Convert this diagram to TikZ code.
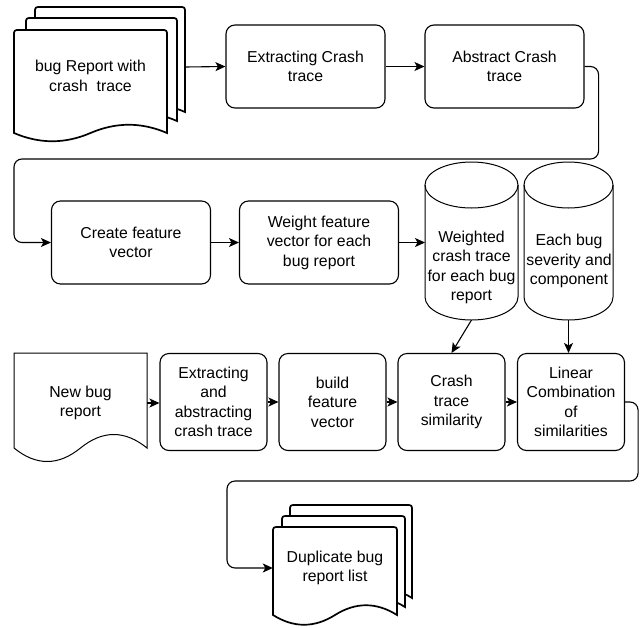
\documentclass[tikz,border=0pt]{standalone}
\usepackage{fontspec}
\setmainfont{Liberation Sans}
\usetikzlibrary{arrows.meta,calc}
\newcommand{\diafont}{\fontsize{15.8pt}{19.5pt}\selectfont}
% sheet with wavy lower edge: [style]{left}{top}{right}{base}{wave}{corner}
\newcommand{\docsheet}[7][]{%
  \draw[sheet,#1] (#2,#5) -- (#2,{#3+#7}) .. controls (#2,#3) .. ({#2+#7},#3)
    -- ({#4-#7},#3) .. controls (#4,#3) .. (#4,{#3+#7}) -- (#4,#5)
    .. controls ({#4-(#4-#2)/6},{#5-#6}) and ({#4-(#4-#2)/3},{#5-#6}) .. ({(#2+#4)/2},#5)
    .. controls ({#2+(#4-#2)/3},{#5+#6}) and ({#2+(#4-#2)/6},{#5+#6}) .. (#2,#5) -- cycle;}
% database drum: {centre x}{top}{bottom}{x radius}{y radius}
\newcommand{\dbcyl}[5]{%
  \draw[cyl] ({#1-#4},{#2+#5}) -- ({#1-#4},{#3-#5})
    arc[start angle=180,end angle=360,x radius=#4pt,y radius=#5pt] -- ({#1+#4},{#2+#5});
  \draw[cyl] (#1,{#2+#5}) ellipse[x radius=#4pt,y radius=#5pt];}
\tikzset{
  procbox/.style={draw,rounded corners=9pt,line width=1.1pt,align=center,font=\diafont,inner sep=0pt},
  widebox/.style={procbox,minimum width=159pt,minimum height=83pt},
  tallbox/.style={procbox,minimum width=107pt,minimum height=97pt},
  doctext/.style={align=center,font=\diafont,inner sep=0pt},
  sheet/.style={draw,fill=white,line width=1.7pt},
  cyl/.style={line width=1pt},
  flow/.style={line width=1.1pt,-{Stealth[length=10pt,width=9pt,inset=2.5pt]}}
}

\begin{document}
\begin{tikzpicture}[x=1pt,y=-1pt]
  \useasboundingbox (0,0) rectangle (642,627);

  % incoming bug reports
  \docsheet{35}{7}{185}{112}{11}{6}
  \docsheet{26}{18}{177}{121}{11}{6}
  \docsheet{14}{30}{167}{133}{11}{6}
  \node[doctext] (bugrep) at (90.5,76) {bug Report with\\crash~ trace};
  \coordinate (bugout) at (185,67);

  \node[widebox] (ext) at (305.5,66.5) {Extracting Crash\\trace};
  \node[widebox] (abs) at (504.5,66.5) {Abstract Crash\\trace};
  \node[widebox] (cfv) at (131,242.5) {Create feature\\vector};
  \node[widebox] (wfv) at (319,242.5) {Weight feature\\vector for each\\bug report};

  % stores
  \dbcyl{471.5}{162}{320}{46.5}{23}
  \dbcyl{568.5}{162}{320}{44.5}{23}
  \node[doctext] (wct) at (471.5,267.5) {Weighted\\crash trace\\for each bug\\report};
  \node[doctext] (sev) at (569,261) {Each bug\\severity and\\component};
  \coordinate (wctin) at (425,242.5);
  \coordinate (wctbot) at (471.5,320);
  \coordinate (sevbot) at (568.5,320);

  % new report
  \docsheet[line width=1pt]{14}{353}{147}{448}{18}{0}
  \node[doctext,minimum width=133pt] (newbug) at (80.5,403) {New bug\\report};

  \node[tallbox] (eact) at (213.5,402) {Extracting\\and\\abstracting\\crash trace};
  \node[tallbox] (bfv) at (332.5,402) {build\\feature\\vector};
  \node[tallbox] (cts) at (451.5,402) {Crash\\trace\\similarity};
  \node[tallbox] (lcs) at (571,402) {Linear\\Combination\\of\\similarities};

  % result
  \docsheet{290}{505}{412}{598}{13}{6}
  \docsheet{282}{516}{405}{607}{13}{6}
  \docsheet{273}{527}{397}{615}{13}{6}
  \node[doctext,minimum width=124pt] (dup) at (335,568) {Duplicate bug\\report list};

  \draw[flow] (bugout) -- (ext.west);
  \draw[flow] (ext) -- (abs);
  \draw[flow,rounded corners=8pt] (abs.east) -- ++(14,0) |- (14,159) |- (cfv.west);
  \draw[flow] (cfv) -- (wfv);
  \draw[flow] (wfv.east) -- (wctin);
  \draw[flow] (wctbot) -- (cts.north);
  \draw[flow] (sevbot) -- (sevbot |- lcs.north);
  \draw[flow] (newbug.east) -- (newbug.east -| eact.west);
  \draw[flow] (eact) -- (bfv);
  \draw[flow] (bfv) -- (cts);
  \draw[flow] (cts) -- (lcs);
  \draw[flow,rounded corners=8pt] (lcs.east) -- ++(13,0) |- (227,481) |- (dup.west);
\end{tikzpicture}
\end{document}
